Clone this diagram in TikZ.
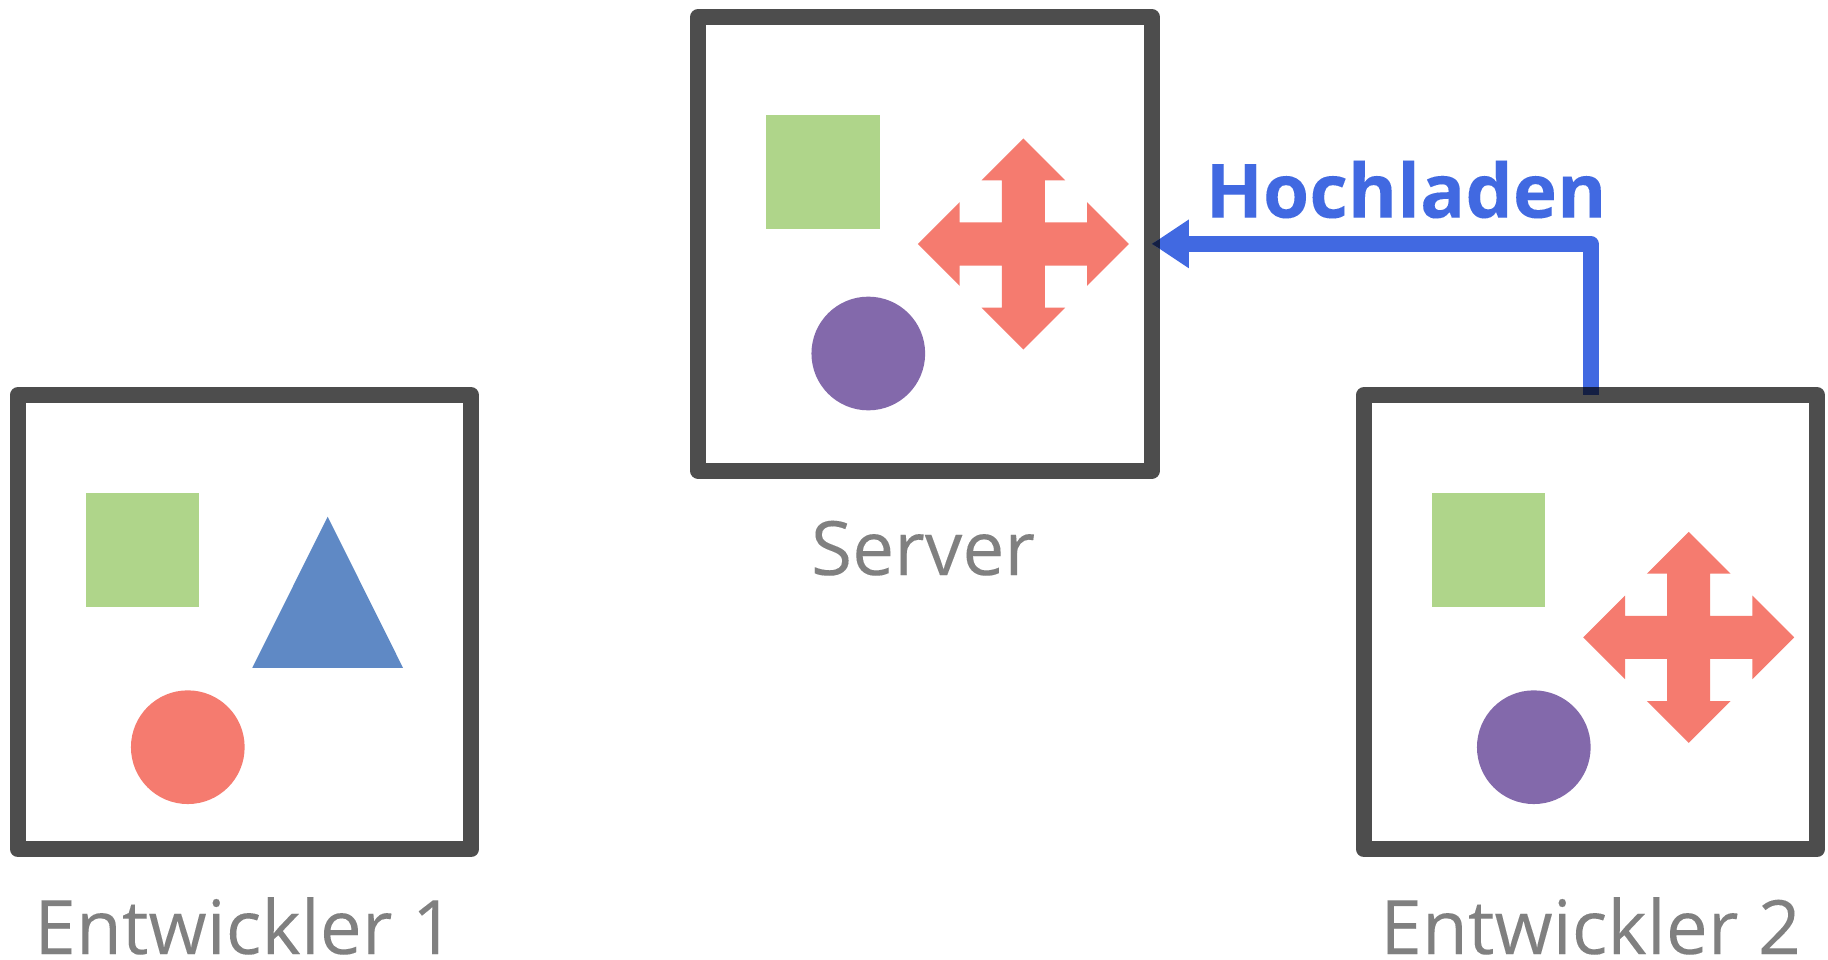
\documentclass[tikz,border=0pt]{standalone}
\usepackage{fontspec}
\setmainfont[FakeBold=0.05]{Open Sans}
\usetikzlibrary{arrows.meta}
\definecolor{boxline}{HTML}{4D4D4D}
\definecolor{labelgray}{HTML}{808080}
\definecolor{upblue}{HTML}{4169E1}
\definecolor{overlapblue}{HTML}{141F43}
\definecolor{leafgreen}{HTML}{AFD58A}
\definecolor{triblue}{HTML}{5F89C5}
\definecolor{salmon}{HTML}{F57B6F}
\definecolor{violet}{HTML}{8369AB}
\newcommand{\crossat}[2]{%
  \fill[salmon,shift={(#1,#2)}] (0,-105.5) -- (41.8,-63.7) -- (21.5,-63.7) -- (21.5,-21.5)
      -- (63.7,-21.5) -- (63.7,-41.8) -- (105.5,0) -- (63.7,41.8) -- (63.7,21.5)
      -- (21.5,21.5) -- (21.5,63.7) -- (41.8,63.7) -- (0,105.5) -- (-41.8,63.7)
      -- (-21.5,63.7) -- (-21.5,21.5) -- (-63.7,21.5) -- (-63.7,41.8) -- (-105.5,0)
      -- (-63.7,-41.8) -- (-63.7,-21.5) -- (-21.5,-21.5) -- (-21.5,-63.7) -- (-41.8,-63.7) -- cycle;}
\tikzset{
  frame/.style={draw=boxline,line width=16pt,line join=round,fill=white,rectangle,
    minimum width=453.6pt,minimum height=453.6pt,inner sep=0pt,outer sep=0pt},
  sq/.style={rectangle,fill=leafgreen,minimum size=113.7pt,inner sep=0pt,outer sep=0pt},
  disc/.style={circle,minimum size=113.7pt,inner sep=0pt,outer sep=0pt},
  caption/.style={anchor=base,inner sep=0pt,outer sep=0pt,text=labelgray,font=\fontsize{75}{90}\selectfont},
  uplabel/.style={anchor=base,inner sep=0pt,outer sep=0pt,text=upblue,font=\fontsize{75}{90}\selectfont\bfseries}
}
\begin{document}
\begin{tikzpicture}[x=1pt,y=-1pt]
\useasboundingbox (0,0) rectangle (1828,960);
% labels
\node[caption] (serverlabel) at (923,575) {Server};
\node[caption] (dev1label) at (244.5,954) {Entwickler 1};
\node[caption] (dev2label) at (1590.5,954) {Entwickler 2};
\node[uplabel] (hoch) at (1406,217.7) {Hochladen};
% boxes
\node[frame] (server) at (925,243.85) {};
\node[frame] (dev1) at (244.5,622.2) {};
\node[frame] (dev2) at (1590.5,622.2) {};
% server content
\node[sq] (serversq) at (823.15,172.15) {};
\node[disc,fill=violet] (serverdisc) at (868.3,353.5) {};
\crossat{1023.3}{244}
% developer 1 content
\node[sq] (dev1sq) at (142.5,550.15) {};
\node[disc,fill=salmon] (dev1disc) at (187.8,747.2) {};
\fill[triblue] (327.7,516.7) -- (403,667.8) -- (252.3,667.8) -- cycle;
% developer 2 content
\node[sq] (dev2sq) at (1488.5,550.15) {};
\node[disc,fill=violet] (dev2disc) at (1533.8,747.2) {};
\crossat{1688.7}{637.4}
% connector
\draw[upblue,line width=16pt,line join=round,-{Triangle[length=37pt,width=46pt]}]
  (dev2.north) |- (server.east);
% where the connector lies over the box lines
\fill[overlapblue] (server.east) -- ++(8,-4.97) -- ++(0,9.94) -- cycle;
\fill[overlapblue] ([xshift=-8pt]dev2.north) rectangle ([xshift=8pt,yshift=8pt]dev2.north);
\end{tikzpicture}
\end{document}
